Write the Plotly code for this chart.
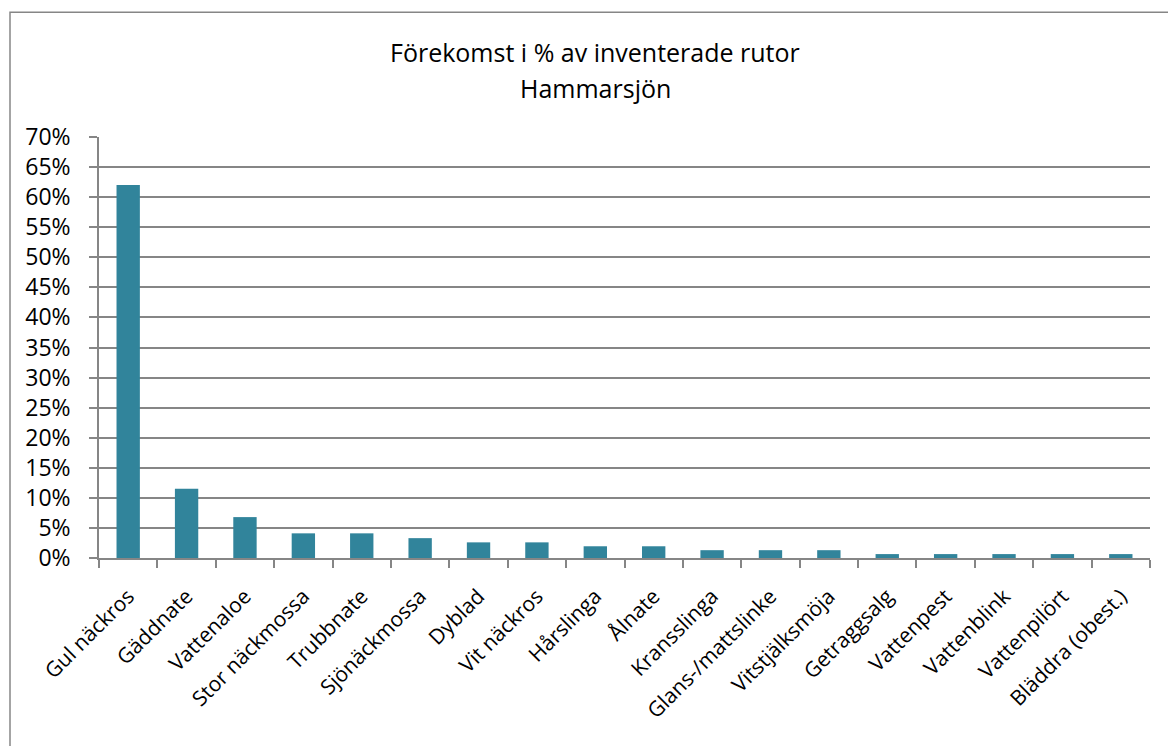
import plotly.graph_objects as go

categories = ["Gul näckros", "Gäddnate", "Vattenaloe", "Stor näckmossa", "Trubbnate",
              "Sjönäckmossa", "Dyblad", "Vit näckros", "Hårslinga", "Ålnate",
              "Kransslinga", "Glans-/mattslinke", "Vitstjälksmöja", "Getraggsalg",
              "Vattenpest", "Vattenblink", "Vattenpilört", "Bläddra (obest.)"]
values = [0.620, 0.115, 0.068, 0.041, 0.041,
          0.033, 0.026, 0.026, 0.0195, 0.0195,
          0.013, 0.013, 0.013, 0.0065,
          0.0065, 0.0065, 0.0065, 0.0065]
title_lines = ["Förekomst i % av inventerade rutor", "Hammarsjön"]
y_ticks = [i / 100 for i in range(0, 75, 5)]
y_tick_labels = [f"{i}%" for i in range(0, 75, 5)]

FONT = "Open Sans"
GRID = "#868686"

fig = go.Figure(go.Bar(
    x=categories, y=values,
    marker=dict(color="#31849B", line=dict(width=0)),
    width=0.4,
))

W, H = 1168, 746
L, R, T, B = 99, 1150, 137, 558.5
pw, ph = R - L, B - T

fig.update_layout(
    width=W, height=H,
    margin=dict(l=L, r=W - R, t=T, b=H - B),
    paper_bgcolor="white", plot_bgcolor="white",
    showlegend=False,
    font=dict(family=FONT, color="black"),
)
fig.update_xaxes(
    showline=True, linecolor=GRID, linewidth=1.5,
    ticks="outside", tickson="boundaries", ticklen=8, tickcolor=GRID, tickwidth=1.5,
    tickangle=-45, tickfont=dict(size=21, family=FONT, color="black"),
    ticklabelstandoff=16,
    showgrid=False,
)
fig.update_yaxes(
    range=[0, 0.70], tickvals=y_ticks, ticktext=y_tick_labels,
    showline=True, linecolor=GRID, linewidth=1.5,
    ticks="outside", ticklen=8, tickcolor=GRID, tickwidth=1.5,
    showgrid=True, gridcolor=GRID, gridwidth=1.5,
    tickfont=dict(size=23, family=FONT, color="black"),
    ticklabelstandoff=14,
    zeroline=False,
)

# outer chart border
fig.add_shape(type="rect", xref="paper", yref="paper",
              x0=(10 - L) / pw, x1=(1180 - L) / pw,
              y0=(B - 760) / ph, y1=(B - 12) / ph,
              line=dict(color="#868686", width=1.5), fillcolor="rgba(0,0,0,0)", layer="below")

title_y = [52, 88]
for txt, yy in zip(title_lines, title_y):
    fig.add_annotation(text=txt, xref="paper", yref="paper",
                       x=(595 - L) / pw, y=(B - yy) / ph,
                       showarrow=False, xanchor="center", yanchor="middle",
                       font=dict(size=25, family=FONT, color="black"))

fig.write_html("out.html")
